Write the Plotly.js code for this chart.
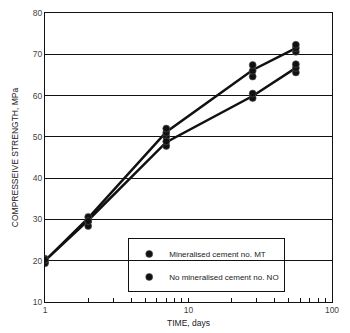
<!DOCTYPE html>
<html>
<head>
<meta charset="utf-8">
<script src="https://cdn.plot.ly/plotly-3.0.1.min.js"></script>
<style>html,body{margin:0;padding:0;background:#fff;}#chart{width:350px;height:333px;}</style>
</head>
<body>
<div id="chart"></div>
<script>
// Age of specimens, days
var days = [1, 2, 7, 28, 56];
// Mean strength (lines), MPa
var meanMT = [20, 30.3, 51.2, 66.2, 71.5];
var meanNO = [20, 29.8, 48.7, 59.9, 66.7];
// Individual specimen readings (markers), MPa
var repDaysMT = [1, 1, 2, 2, 7, 7, 7, 28, 28, 28, 56, 56, 56];
var repMT = [19.6, 20.5, 29.6, 30.6, 50.0, 51.0, 52.0, 64.6, 66.0, 67.4, 70.6, 71.5, 72.3];
var repDaysNO = [1, 1, 2, 2, 7, 7, 28, 28, 56, 56, 56];
var repNO = [19.4, 20.2, 28.4, 29.6, 47.8, 48.9, 59.4, 60.5, 65.6, 66.7, 67.6];
var labelMT = 'Mineralised cement no. MT';
var labelNO = 'No mineralised cement no. NO';
var yTicks = [10, 20, 30, 40, 50, 60, 70, 80];
var xTickVals = [1, 2, 3, 4, 5, 6, 7, 8, 9, 10, 20, 30, 40, 50, 60, 70, 80, 90, 100];
var xTickText = ['1', '', '', '', '', '', '', '', '', '10', '', '', '', '', '', '', '', '', '100'];

var font = 'Liberation Sans, Arial, sans-serif';
var traces = [
  {x: days, y: meanMT, mode: 'lines', line: {color: '#111', width: 2.5}, showlegend: false, hoverinfo: 'skip'},
  {x: days, y: meanNO, mode: 'lines', line: {color: '#111', width: 2.5}, showlegend: false, hoverinfo: 'skip'},
  {x: repDaysMT, y: repMT, mode: 'markers', name: labelMT, legendgroup: 'a',
   marker: {color: '#111', size: 7, line: {color: '#555', width: 0.6}}},
  {x: repDaysNO, y: repNO, mode: 'markers', name: labelNO, legendgroup: 'b',
   marker: {color: '#111', size: 7, line: {color: '#555', width: 0.6}}}
];

var layout = {
  width: 350, height: 333,
  margin: {l: 45, r: 18, t: 13, b: 31},
  paper_bgcolor: '#fff', plot_bgcolor: '#fff',
  font: {family: font, size: 8.5, color: '#333'},
  showlegend: true,
  legend: {
    x: 0.29, y: 0.22, xanchor: 'left', yanchor: 'top',
    bgcolor: 'rgba(0,0,0,0)', bordercolor: '#111', borderwidth: 1,
    font: {family: font, size: 8, color: '#222'},
    traceorder: 'grouped', tracegroupgap: 4, itemwidth: 30
  },
  xaxis: {
    type: 'log', range: [0, 2],
    tickmode: 'array', tickvals: xTickVals, ticktext: xTickText,
    ticks: 'inside', ticklen: 4, tickcolor: '#111', tickwidth: 1,
    showgrid: false, zeroline: false,
    showline: true, linecolor: '#111', linewidth: 1, mirror: true,
    tickfont: {size: 8.5, color: '#444'},
    title: {text: 'TIME, days', font: {size: 8.5, color: '#222'}, standoff: 5}
  },
  yaxis: {
    range: [10, 80], tickmode: 'array', tickvals: yTicks,
    ticks: '', showgrid: true, gridcolor: '#111', gridwidth: 1,
    zeroline: false, showline: true, linecolor: '#111', linewidth: 1, mirror: true,
    tickfont: {size: 8.5, color: '#444'},
    title: {text: 'COMPRESSEIVE STRENGTH, MPa', font: {size: 8.5, color: '#222'}, standoff: 12}
  }
};

Plotly.newPlot('chart', traces, layout, {staticPlot: true, displayModeBar: false});
</script>
</body>
</html>
